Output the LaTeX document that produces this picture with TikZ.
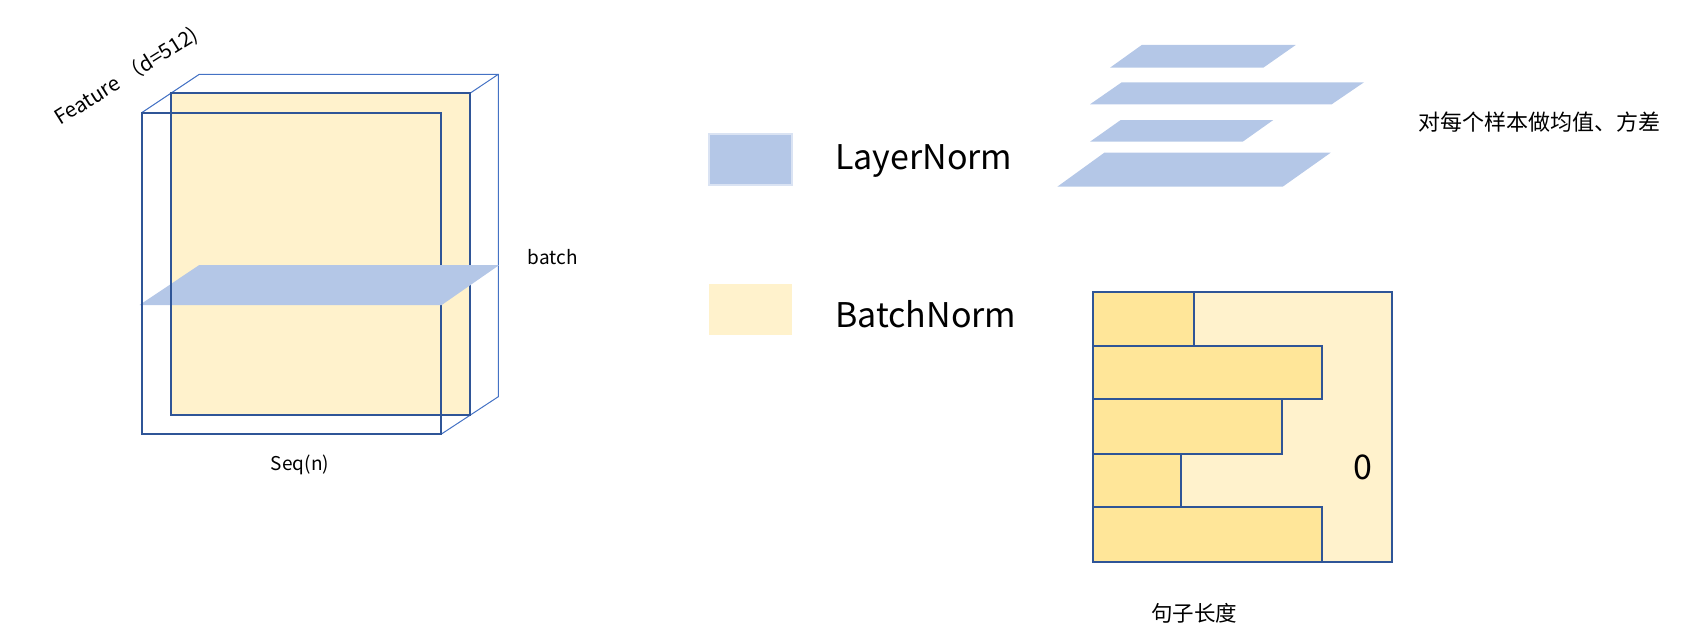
\documentclass[tikz,border=0pt]{standalone}
\usepackage{fontspec}
\setmainfont{Noto Sans CJK SC}
\definecolor{lnblue}{HTML}{B4C7E7}
\definecolor{bnyellow}{HTML}{FFF2CC}
\definecolor{rowyellow}{HTML}{FFE699}
\definecolor{darkb}{HTML}{2F5597}
\definecolor{thinb}{HTML}{4472C4}
\definecolor{lightedge}{HTML}{DAE3F3}
\tikzset{
  thickedge/.style={draw=darkb, line width=2pt},
  thinedge/.style={draw=thinb, line width=1pt},
  plane/.style={fill=lnblue, draw=none},
  rowbox/.style={fill=rowyellow, draw=darkb, line width=2pt},
  lbl/.style={inner sep=0pt, text=black},
}
\begin{document}
\begin{tikzpicture}[x=1pt,y=-1pt]
\useasboundingbox (0,0) rectangle (1692,642);
% ---------- cube ----------
\draw[thinedge] (141.7,112.7) -- (199.3,74.3) -- (498.3,74.3) -- (498.3,396.7) -- (441,434.3);
\draw[thinedge] (441,112.7) -- (498.3,74.3);
\fill[bnyellow] (170.7,93.3) rectangle (470,415);
\draw[thickedge] (170.7,93.3) rectangle (470,415);
\draw[thickedge] (141.7,112.7) rectangle (441,434.3);
\fill[plane] (139.5,305) -- (441.7,305) -- (499.3,265) -- (199.3,265) -- cycle;
\draw[thickedge] (141.7,262) -- (141.7,308);
\draw[thickedge] (170.7,262) -- (170.7,308);
\node[lbl, rotate=32, font=\fontsize{20.5}{24}\selectfont] (feat) at (126.5,76.5) {Feature\hspace{0.3em}（d=512)};
\node[lbl, font=\fontsize{19}{22}\selectfont] (seq) at (300,465) {Seq(n)};
\node[lbl, font=\fontsize{19}{22}\selectfont] (batch) at (552.8,256.7) {batch};
% ---------- legend ----------
\filldraw[fill=lnblue, draw=lightedge, line width=2pt] (709.3,134.3) rectangle (791.7,185);
\fill[bnyellow] (709.3,284) rectangle (791.7,335.3);
\node[lbl, anchor=base west, font=\fontsize{34}{40}\selectfont] (ln) at (835,169) {LayerNorm};
\node[lbl, anchor=base west, font=\fontsize{34}{40}\selectfont] (bn) at (835,327.3) {BatchNorm};
% ---------- stacked planes ----------
\fill[plane] (1110,67.7) -- (1263.3,67.7) -- (1295.7,45) -- (1141.7,45) -- cycle;
\fill[plane] (1090,104.3) -- (1331.7,104.3) -- (1364,82.3) -- (1121.7,82.3) -- cycle;
\fill[plane] (1090,141.7) -- (1242.7,141.7) -- (1273.3,120) -- (1120.7,120) -- cycle;
\fill[plane] (1057.3,186.7) -- (1282.7,186.7) -- (1330.7,152.7) -- (1104.3,152.7) -- cycle;
\node[lbl, anchor=west, font=\fontsize{22}{26}\selectfont] (desc) at (1418,122) {对每个样本做均值、方差};
% ---------- padded batch ----------
\filldraw[fill=bnyellow, draw=darkb, line width=2pt] (1092.7,292) rectangle (1392,561.7);
\filldraw[rowbox] (1092.7,292) rectangle (1194,345.7);
\filldraw[rowbox] (1092.7,345.7) rectangle (1322,399.3);
\filldraw[rowbox] (1092.7,399.3) rectangle (1282,453.7);
\filldraw[rowbox] (1092.7,453.7) rectangle (1181,507);
\filldraw[rowbox] (1092.7,507) rectangle (1322,561.7);
\node[lbl, anchor=base, font=\fontsize{34}{40}\selectfont] (zero) at (1362.7,479.3) {0};
\node[lbl, font=\fontsize{21.5}{24}\selectfont] (len) at (1194,613.3) {句子长度};
\end{tikzpicture}
\end{document}
